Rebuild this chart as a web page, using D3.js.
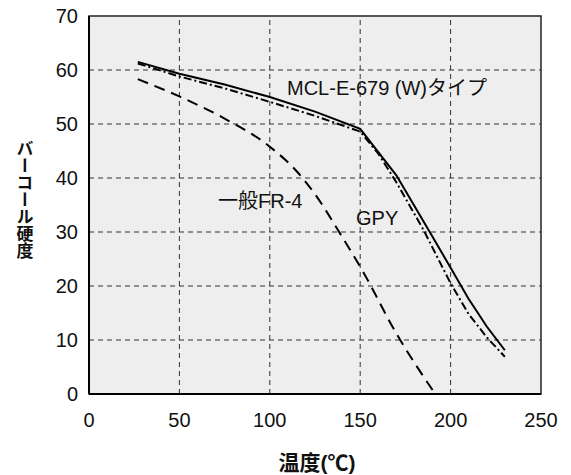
<!DOCTYPE html>
<html>
<head>
<meta charset="utf-8">
<script src="https://cdn.jsdelivr.net/npm/d3@7"></script>
<style>
  body { margin: 0; background: #fff; }
  text { font-family: "Liberation Sans", Arial, "Noto Sans CJK JP", sans-serif; fill: #111; }
</style>
</head>
<body>
<div id="chart"></div>
<script>
// temperature (C) vs Barcol hardness
const mclTemp = [27, 50, 75, 100, 125, 150, 170, 180, 190, 200, 210, 220, 230];
const mclHard = [61.5, 59.3, 57.3, 55, 52.3, 49.1, 40.5, 34.8, 29.1, 23.4, 17.6, 12.5, 8.1];

const gpyTemp = [27, 50, 75, 100, 125, 150, 160, 170, 185, 200, 210, 220, 230];
const gpyHard = [61.2, 58.8, 56.6, 54.1, 51.5, 48.6, 44.5, 39.2, 30.4, 20.5, 14.8, 10.5, 6.9];

const fr4Temp = [27, 50, 75, 100, 115, 125, 140, 151, 170, 191.5];
const fr4Hard = [58.3, 55.1, 51, 45.8, 41.2, 37, 29.1, 23, 11.2, 0];

const xTicks = [0, 50, 100, 150, 200, 250];
const yTicks = [0, 10, 20, 30, 40, 50, 60, 70];

const width = 571, height = 475;
const margin = { top: 16, right: 30, bottom: 81, left: 89 };

const svg = d3.select("#chart").append("svg")
  .attr("width", width)
  .attr("height", height);

const x = d3.scaleLinear().domain([0, 250]).range([margin.left, width - margin.right]);
const y = d3.scaleLinear().domain([0, 70]).range([height - margin.bottom, margin.top]);

// plot background
svg.append("rect")
  .attr("x", x(0)).attr("y", y(70))
  .attr("width", x(250) - x(0)).attr("height", y(0) - y(70))
  .attr("fill", "#eeeeee")
  .attr("stroke", "#222").attr("stroke-width", 1.5);

// grid
svg.append("g").selectAll("line")
  .data(xTicks.filter(d => d > 0 && d < 250))
  .join("line")
  .attr("x1", d => x(d)).attr("x2", d => x(d))
  .attr("y1", y(0)).attr("y2", y(70))
  .attr("stroke", "#333").attr("stroke-width", 1)
  .attr("stroke-dasharray", "5,4");

svg.append("g").selectAll("line")
  .data(yTicks.filter(d => d > 0 && d < 70))
  .join("line")
  .attr("x1", x(0)).attr("x2", x(250))
  .attr("y1", d => y(d)).attr("y2", d => y(d))
  .attr("stroke", "#333").attr("stroke-width", 1)
  .attr("stroke-dasharray", "5,4");

// axes lines (left, bottom heavier)
svg.append("line")
  .attr("x1", x(0)).attr("x2", x(0)).attr("y1", y(0)).attr("y2", y(70))
  .attr("stroke", "#000").attr("stroke-width", 2);
svg.append("line")
  .attr("x1", x(0)).attr("x2", x(250)).attr("y1", y(0)).attr("y2", y(0))
  .attr("stroke", "#000").attr("stroke-width", 2);

// tick labels
svg.append("g").selectAll("text")
  .data(yTicks)
  .join("text")
  .attr("x", x(0) - 11)
  .attr("y", d => y(d))
  .attr("dy", "0.36em")
  .attr("text-anchor", "end")
  .attr("font-size", 20)
  .text(d => d);

svg.append("g").selectAll("text")
  .data(xTicks)
  .join("text")
  .attr("x", d => x(d))
  .attr("y", y(0) + 26)
  .attr("dy", "0.36em")
  .attr("text-anchor", "middle")
  .attr("font-size", 20)
  .text(d => d);

// axis titles
svg.append("text")
  .attr("x", 317).attr("y", 462)
  .attr("dy", "0.36em")
  .attr("text-anchor", "middle")
  .attr("font-size", 21)
  .attr("font-weight", "bold")
  .text("温度(℃)");

svg.append("text")
  .attr("x", 25).attr("y", 140)
  .attr("font-size", 17)
  .attr("font-weight", "bold")
  .style("writing-mode", "vertical-rl")
  .style("font-family", '"Noto Sans CJK JP", sans-serif')
  .text("バーコール硬度");

// curves
const line = d3.line().x(d => x(d[0])).y(d => y(d[1]));
const smooth = d3.line().x(d => x(d[0])).y(d => y(d[1])).curve(d3.curveMonotoneX);

svg.append("path")
  .datum(d3.zip(mclTemp, mclHard))
  .attr("d", line)
  .attr("fill", "none").attr("stroke", "#000").attr("stroke-width", 2);

svg.append("path")
  .datum(d3.zip(gpyTemp, gpyHard))
  .attr("d", line)
  .attr("fill", "none").attr("stroke", "#000").attr("stroke-width", 2)
  .attr("stroke-dasharray", "8,3,2,3");

svg.append("path")
  .datum(d3.zip(fr4Temp, fr4Hard))
  .attr("d", smooth)
  .attr("fill", "none").attr("stroke", "#000").attr("stroke-width", 2)
  .attr("stroke-dasharray", "11,7");

// curve labels
svg.append("text")
  .attr("x", 287).attr("y", 88).attr("dy", "0.36em")
  .attr("font-size", 20)
  .text("MCL-E-679 (W)タイプ");

svg.append("text")
  .attr("x", 218).attr("y", 201).attr("dy", "0.36em")
  .attr("font-size", 20)
  .text("一般FR-4");

svg.append("text")
  .attr("x", 356).attr("y", 218).attr("dy", "0.36em")
  .attr("font-size", 20)
  .text("GPY");
</script>
</body>
</html>
